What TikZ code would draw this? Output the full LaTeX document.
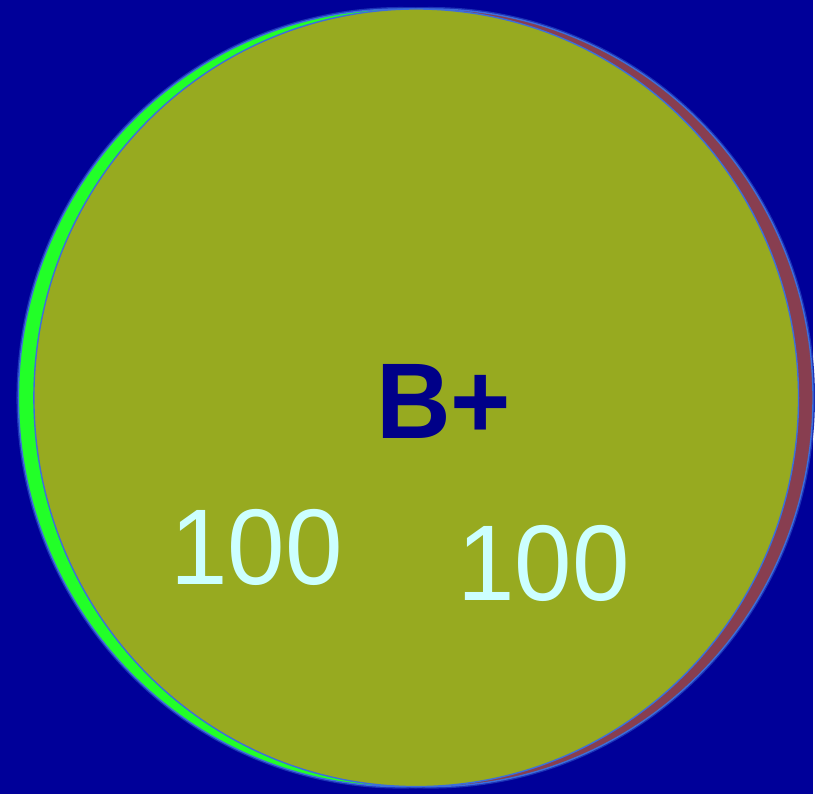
\documentclass[tikz,border=0pt]{standalone}
\usepackage{fontspec}
\setmainfont{Liberation Sans}
\usepackage{xcolor}
\usepackage{graphicx}

\definecolor{deepblue}{RGB}{0,0,153}
\definecolor{rimblue}{RGB}{60,110,220}
\definecolor{olive}{RGB}{151,170,32}
\definecolor{lime}{RGB}{34,255,40}
\definecolor{plum}{RGB}{136,62,80}
\definecolor{inkblue}{RGB}{0,0,136}
\definecolor{paleaqua}{RGB}{204,255,255}

\newcommand{\narrow}[1]{\scalebox{0.96}[1]{#1}}

\begin{document}
\begin{tikzpicture}[
    x=1pt,y=-1pt,
    disc/.style={draw=rimblue,line width=1.4pt},
    halo/.style={draw=rimblue!45!deepblue,line width=4pt},
    big/.style={inner sep=0pt,font=\fontsize{108}{120}\selectfont}
  ]
  \fill[deepblue] (0,0) rectangle (815,796);

  % the two shifted discs behind
  \draw[halo] (402,399) ellipse [x radius=383.5pt,y radius=390pt];
  \draw[halo] (432,399) ellipse [x radius=383.5pt,y radius=390pt];
  \filldraw[disc,fill=lime] (402,399) ellipse [x radius=383.5pt,y radius=390pt];
  \filldraw[disc,fill=plum] (432,399) ellipse [x radius=383.5pt,y radius=390pt];
  % front disc
  \filldraw[disc,fill=olive] (417.5,399) ellipse [x radius=383.5pt,y radius=390pt];

  \node[big,text=inkblue,font=\fontsize{108}{120}\selectfont\bfseries] (grade) at (445,403) {\narrow{B+}};
  \node[big,text=paleaqua] (left) at (257.5,549) {\narrow{100}};
  \node[big,text=paleaqua] (right) at (545,565) {\narrow{100}};
\end{tikzpicture}
\end{document}
